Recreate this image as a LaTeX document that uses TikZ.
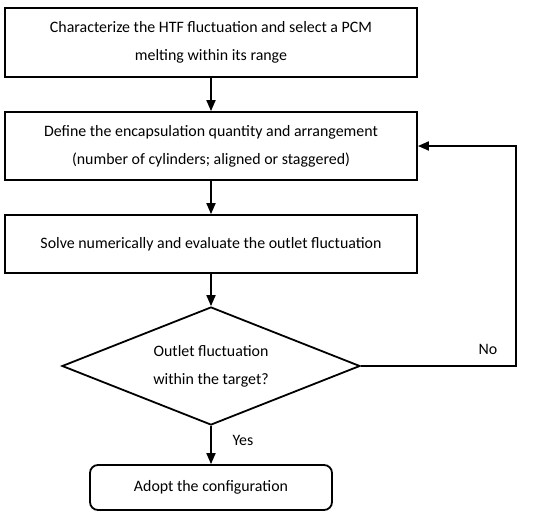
\documentclass[tikz,border=0pt]{standalone}
\usepackage{fontspec}
\setmainfont{Carlito}
\usetikzlibrary{shapes.geometric,arrows.meta}

\tikzset{
  stepbox/.style={draw, line width=1.8pt, minimum width=412pt, align=center,
    font=\fontsize{15.9}{28}\selectfont},
  decide/.style={draw, diamond, shape aspect=2.525, line width=1.8pt, minimum width=298pt,
    minimum height=118pt, inner sep=0pt, align=center,
    font=\fontsize{15.9}{28}\selectfont},
  endbox/.style={draw, rounded corners=8pt, line width=1.8pt, minimum width=242pt,
    minimum height=45pt, font=\fontsize{15.9}{28}\selectfont},
  flow/.style={line width=1.8pt, -{Triangle[length=11pt,width=9pt]}}
}

\begin{document}
\begin{tikzpicture}[x=1pt, y=-1pt]

    \useasboundingbox (0,0) rectangle (550,517);

    \node[stepbox, minimum height=69pt] (a) at (211, 42.5) {Characterize the HTF fluctuation and select a PCM\\ melting within its range};
    \node[stepbox, minimum height=68pt] (b) at (211, 146) {Define the encapsulation quantity and arrangement\\ (number of cylinders; aligned or staggered)};
    \node[stepbox, minimum height=58pt] (c) at (211, 244) {Solve numerically and evaluate the outlet fluctuation};
    \node[decide] (d) at (211, 366) {Outlet fluctuation\\ within the target?};
    \node[endbox] (e) at (211, 487.5) {Adopt the configuration};
    \coordinate (m) at (516, 366);
    \node[font=\fontsize{15.9}{18}\selectfont] (no) at (488, 349) {No};
    \node[font=\fontsize{15.9}{18}\selectfont] (yes) at (243, 440) {Yes};

    \draw [flow] (a) -- (b);
    \draw [flow] (b) -- (c);
    \draw [flow] (c) -- (d);
    \draw [flow] (d) -- (e);
    \draw [flow] (d.east) -- (m) |- (b.east);

\end{tikzpicture}
\end{document}
